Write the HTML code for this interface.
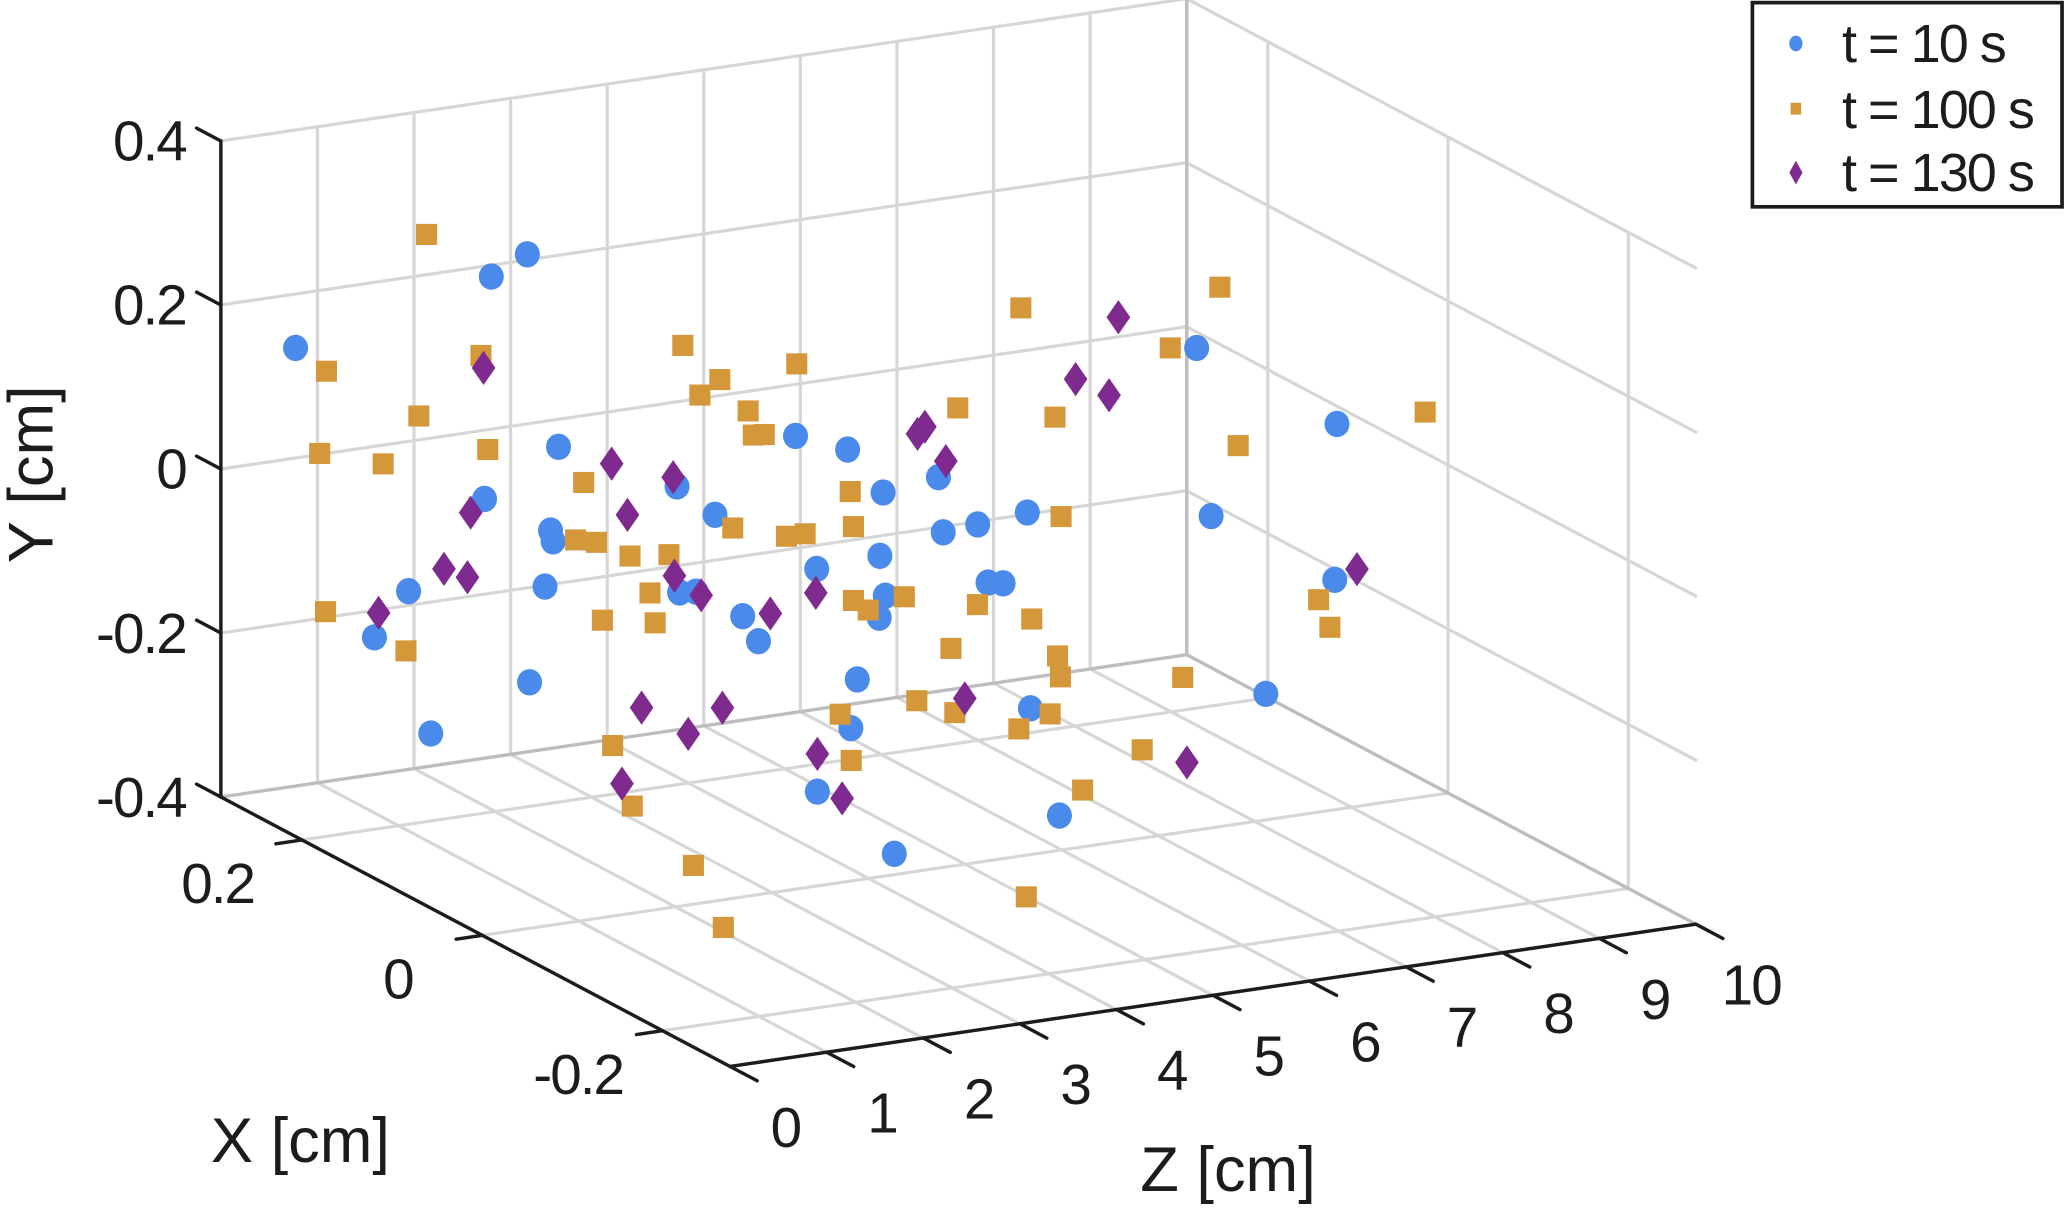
<!DOCTYPE html>
<html><head><meta charset="utf-8"><style>
html,body{margin:0;padding:0;background:#fff;}
svg{display:block;}
text{font-family:"Liberation Sans",Arial,sans-serif;fill:#1c1c1c;}
</style></head><body>
<svg id="chart" width="2066" height="1208" viewBox="0 0 1568 917" preserveAspectRatio="none" xmlns="http://www.w3.org/2000/svg">
<g id="grid"></g>
<g id="axes"></g>
<g id="marks"></g>
<text x="0" y="0" font-size="48" text-anchor="middle" transform="translate(40,360) rotate(-90)">Y [cm]</text>
<text x="228" y="882" font-size="48" text-anchor="middle">X [cm]</text>
<text x="932" y="904" font-size="48" text-anchor="middle">Z [cm]</text>
<g>
<rect x="1330" y="2" width="235" height="155" fill="#fff" stroke="#1c1c1c" stroke-width="2.8"/>
<g><ellipse cx="1363" cy="33" rx="5" ry="6" fill="#4A8AEA"/><text x="1398" y="47" font-size="41" letter-spacing="-1.5">t = 10 s</text></g>
<g><rect x="1359" y="78" width="8" height="9" fill="#D4973A"/><text x="1398" y="97" font-size="41" letter-spacing="-1.5">t = 100 s</text></g>
<g><polygon points="1363,122 1368,131 1363,140 1358,131" fill="#7E2A8E"/><text x="1398" y="145" font-size="41" letter-spacing="-1.5">t = 130 s</text></g>
</g>
</svg>
<script>
// axis ranges and ticks
const xLim = [-0.275, 0.29];
const yLim = [-0.4, 0.4];
const zLim = [0, 10];
const xTicks = [-0.2, 0, 0.2];
const xTickLabels = ["-0.2", "0", "0.2"];
const yTicks = [-0.4, -0.2, 0, 0.2, 0.4];
const yTickLabels = ["-0.4", "-0.2", "0", "0.2", "0.4"];
const zTicks = [0,1,2,3,4,5,6,7,8,9,10];
const zTickLabels = ["0","1","2","3","4","5","6","7","8","9","10"];

// series t = 10 s
const blueX = [0.25,0.2,0.1,0,0.2,0.1,0.2,0,0.25,0.2,0.1,0,0.1,0,0.2,-0.1,0.1,0,0.2,-0.1,0,0.1,-0.1,0.2,0,-0.1,0.1,0,-0.2,0.2,-0.1,0,0.1,-0.1,0.2,-0.2,-0.2,0.25,0.1,0,0.1,-0.1];
const blueY = [0.164,0.253,0.348,0.182,-0.017,0.007,-0.081,0.014,-0.153,-0.166,-0.219,-0.100,0.038,0.071,-0.166,0.055,-0.132,-0.091,0.004,0.201,0.068,-0.083,0.061,-0.207,-0.084,-0.081,-0.288,-0.285,-0.226,-0.072,0.083,0.012,-0.135,0.010,-0.131,-0.073,-0.209,0.002,-0.094,0.070,-0.194,-0.172];
const blueZ = [0.40,1.96,1.40,0.79,1.89,1.64,2.60,0.65,1.57,0.75,0.40,0.49,2.95,2.41,3.91,1.28,3.63,2.86,5.11,2.85,4.15,5.05,2.53,6.04,4.11,2.95,4.75,3.47,2.40,6.59,3.84,5.13,6.17,4.46,7.51,3.81,4.11,9.73,8.48,8.85,9.76,7.18];

// series t = 100 s
const orangeX = [0.2,0.25,0.1,0.2,0.25,0.2,0.1,0.25,0.15,0,0.1,0.2,0,-0.1,0.1,0.2,0,0.1,0,0.2,-0.1,0.1,0,0.2,0,-0.1,0.1,0,0.2,-0.1,0.1,0,-0.2,0,0,-0.1,-0.2,-0.2,0.2,0.1,0,-0.1,0.1,0,-0.1,0.1,-0.2,0,-0.1,-0.2,0,-0.2,-0.1,-0.25,0.2,0.25,0.1,-0.1,0,0.1,-0.1];
const orangeY = [0.316,0.130,0.233,0.096,0.031,0.044,0.117,-0.163,-0.151,0.134,-0.009,-0.090,0.036,0.105,-0.087,-0.186,-0.050,0.209,0.235,0.071,0.266,0.087,0.160,-0.097,0.032,0.106,0.166,0.075,-0.117,0.016,-0.147,-0.063,-0.046,-0.253,-0.192,-0.195,-0.204,-0.285,0.009,0.194,0.129,0.081,-0.160,-0.113,-0.060,-0.237,-0.040,-0.192,-0.139,-0.096,-0.232,-0.182,-0.218,-0.265,0.044,0.072,-0.013,-0.137,-0.141,-0.251,0.143];
const orangeZ = [1.29,0.72,0.92,1.21,0.65,0.84,0.99,0.71,0.61,1.05,1.90,3.05,1.53,1.00,2.67,3.11,1.79,3.01,2.46,4.12,1.82,3.74,2.92,4.46,3.15,2.41,4.19,3.81,5.71,2.91,4.93,4.37,1.84,3.82,1.35,0.62,0.32,0.63,6.79,6.51,5.93,5.06,6.06,5.69,3.92,6.89,4.12,4.50,3.96,3.69,5.88,4.35,5.90,3.30,8.99,9.97,8.76,6.32,8.66,9.71,8.83];

// series t = 130 s
const purpleX = [0.2,0,0.1,0.2,0.15,0.2,0.1,0.25,0,0.1,-0.1,0.2,0,-0.1,0.1,-0.05,0,-0.2,0.1,-0.1,0,-0.2,0.2,0.1,0,-0.2,0.1];
const purpleY = [0.143,0.152,0.050,-0.062,0.006,-0.095,-0.035,-0.174,0.004,-0.099,0.015,-0.191,-0.151,-0.117,-0.240,-0.203,-0.239,-0.149,0.059,0.215,0.095,-0.049,0.023,0.165,0.146,-0.167,-0.185];
const purpleZ = [1.88,1.34,2.91,3.37,1.28,1.47,0.78,1.26,1.99,3.20,2.05,5.32,1.65,1.20,3.42,0.98,3.47,1.86,5.44,3.65,4.80,3.13,8.01,7.52,6.49,5.43,9.99];

const NS = "http://www.w3.org/2000/svg";
function px(x, y, z) { return 366 - 684 * x + 73.3 * z; }
function py(x, y, z) { return 461 - 362 * x - 622.5 * y - 10.8 * z; }
function mk(tag, attrs, parent) {
  const e = document.createElementNS(NS, tag);
  for (const k in attrs) e.setAttribute(k, attrs[k]);
  parent.appendChild(e);
  return e;
}
function line3(p, q, parent, color, w) {
  return mk("line", {x1: px(...p), y1: py(...p), x2: px(...q), y2: py(...q), stroke: color, "stroke-width": w, "stroke-linecap": "round"}, parent);
}
const grid = document.getElementById("grid");
const axes = document.getElementById("axes");
const marks = document.getElementById("marks");
const G = "#d6d6d6", GW = 2.4;
const X1 = xLim[1], X0 = xLim[0], Y0 = yLim[0], Y1 = yLim[1], Z0 = zLim[0], Z1 = zLim[1];

zTicks.forEach(z => { const l = line3([X1, Y0, z], [X1, Y1, z], grid, G, GW);   });
yTicks.forEach(y => { const l = line3([X1, y, Z0], [X1, y, Z1], grid, G, GW);   });
xTicks.concat([X1]).forEach(x => { const l = line3([x, Y0, Z1], [x, Y1, Z1], grid, G, GW);   });
yTicks.forEach(y => { const l = line3([X1, y, Z1], [X0, y, Z1], grid, G, GW);   });
zTicks.forEach(z => { const l = line3([X1, Y0, z], [X0, Y0, z], grid, G, GW);   });
xTicks.forEach(x => { const l = line3([x, Y0, Z0], [x, Y0, Z1], grid, G, GW);   });
[[[X1,Y0,Z1],[X0,Y0,Z1]],[[X1,Y0,Z0],[X1,Y0,Z1]],[[X1,Y0,Z1],[X1,Y1,Z1]]].forEach(s => { const l = line3(s[0], s[1], grid, "#bdbdbd", 2.5);   });

const AK = "#1c1c1c";
let a = line3([X1, Y0, Z0], [X1, Y1, Z0], axes, AK, 2.6);
 
a = line3([X1, Y0, Z0], [X0, Y0, Z0], axes, AK, 2.6);
 
a = line3([X0, Y0, Z0], [X0, Y0, Z1], axes, AK, 2.6);
 

yTicks.forEach((y, i) => {
  const t = line3([X1, y, Z0], [X1 + 0.027, y, Z0], axes, AK, 2.6);
   
  const tx = mk("text", {x: 141, y: py(X1, y, Z0) + 15, "font-size": 43, "text-anchor": "end", "letter-spacing": "-1.5"}, axes);
  tx.textContent = yTickLabels[i];
   
});
xTicks.forEach((x, i) => {
  const t = line3([x, Y0, Z0], [x, Y0, Z0 - 0.27], axes, AK, 2.6);
   
  const tx = mk("text", {x: px(x, Y0, Z0) - 64, y: py(x, Y0, Z0) + 48, "font-size": 43, "text-anchor": "middle", "letter-spacing": "-1.5"}, axes);
  tx.textContent = xTickLabels[i];
   
});
zTicks.forEach((z, i) => {
  const t = line3([X0, Y0, z], [X0 - 0.03, Y0, z], axes, AK, 2.6);
   
  const tx = mk("text", {x: px(X0, Y0, z) + 42, y: py(X0, Y0, z) + 61, "font-size": 43, "text-anchor": "middle", "letter-spacing": "-1.5"}, axes);
  tx.textContent = zTickLabels[i];
   
});

blueX.forEach((x, i) => {
  const cx = px(x, blueY[i], blueZ[i]), cy = py(x, blueY[i], blueZ[i]);
  const m = mk("ellipse", {cx: cx, cy: cy, rx: 9.5, ry: 10, fill: "#4A8AEA"}, marks);
  
  
});
orangeX.forEach((x, i) => {
  const cx = px(x, orangeY[i], orangeZ[i]), cy = py(x, orangeY[i], orangeZ[i]);
  const m = mk("rect", {x: cx - 8, y: cy - 8, width: 16, height: 16, fill: "#D4973A"}, marks);
  
  
});
purpleX.forEach((x, i) => {
  const cx = px(x, purpleY[i], purpleZ[i]), cy = py(x, purpleY[i], purpleZ[i]);
  const pts = [[cx, cy - 13], [cx + 9, cy], [cx, cy + 13], [cx - 9, cy]].map(p => p.join(",")).join(" ");
  const m = mk("polygon", {points: pts, fill: "#7E2A8E"}, marks);
  
  
});
</script>
</body></html>
